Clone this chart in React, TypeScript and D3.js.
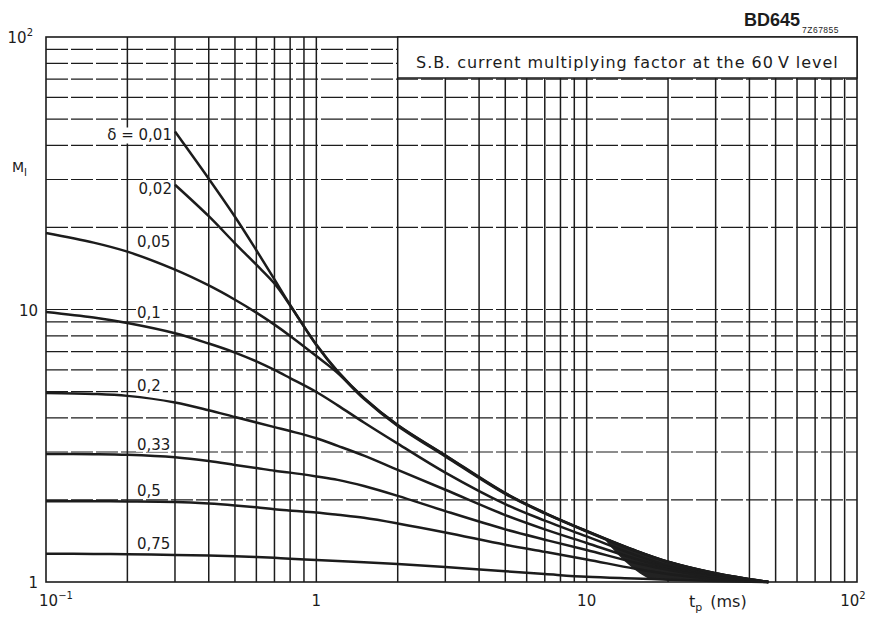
import React from 'react';
import * as d3 from 'd3';

// pulse duration tp (ms)
const tp = [0.1, 0.15, 0.2, 0.3, 0.4, 0.5, 0.6, 0.7, 0.8, 1, 1.2, 1.5, 2, 3, 5, 7, 10, 15, 20, 30, 47];

// M_I values per duty factor δ (null = curve not drawn there)
const d001 = [null, null, null, 45, 30.2, 21.9, 16.5, 12.9, 10.4, 7.44, 5.93, 4.74, 3.77, 2.92, 2.12, 1.795, 1.54, 1.31, 1.187, 1.077, 1.0];
const d002 = [null, null, null, 28.7, 22.0, 17.5, 14.6, 12.45, 10.35, 7.40, 5.91, 4.73, 3.76, 2.91, 2.115, 1.79, 1.537, 1.308, 1.186, 1.076, 1.0];
const d005 = [19.1, 17.6, 16.3, 14.0, 12.25, 10.86, 9.74, 8.80, 8.0, 6.75, 5.85, 4.70, 3.74, 2.89, 2.105, 1.785, 1.532, 1.305, 1.184, 1.075, 1.0];
const d01 = [9.8, 9.35, 8.92, 8.18, 7.5, 6.95, 6.45, 6.0, 5.6, 4.98, 4.45, 3.85, 3.22, 2.52, 1.93, 1.68, 1.47, 1.26, 1.15, 1.055, 1.0];
const d02 = [4.94, 4.9, 4.82, 4.56, 4.27, 4.03, 3.85, 3.70, 3.58, 3.37, 3.16, 2.91, 2.58, 2.18, 1.76, 1.56, 1.39, 1.22, 1.13, 1.045, 1.0];
const d033 = [2.95, 2.945, 2.93, 2.87, 2.78, 2.69, 2.62, 2.56, 2.52, 2.44, 2.37, 2.25, 2.07, 1.82, 1.56, 1.43, 1.31, 1.18, 1.11, 1.04, 1.0];
const d05 = [1.98, 1.978, 1.975, 1.965, 1.94, 1.91, 1.88, 1.85, 1.83, 1.80, 1.765, 1.72, 1.64, 1.52, 1.37, 1.29, 1.21, 1.12, 1.07, 1.025, 1.0];
const d075 = [1.27, 1.268, 1.264, 1.257, 1.25, 1.243, 1.235, 1.227, 1.218, 1.205, 1.195, 1.182, 1.165, 1.135, 1.095, 1.07, 1.045, 1.03, 1.02, 1.008, 1.0];

const seriesLabels = ['δ = 0,01', '0,02', '0,05', '0,1', '0,2', '0,33', '0,5', '0,75'];
const seriesValues = [d001, d002, d005, d01, d02, d033, d05, d075];

const xTicks = [0.1, 1, 10, 100];
const xTickLabels = ['10', '1', '10', '10'];
const xTickSups = ['−1', '', '', '2'];
const yTicks = [1, 10, 100];
const yTickLabels = ['1', '10', '10'];
const yTickSups = ['', '', '2'];

const title = 'S.B. current multiplying factor at the 60\u2009V level';
const typeCode = 'BD645';
const refCode = '7Z67855';

const W = 870;
const H = 620;
const L = 46, R = 857, T = 37, B = 582;
const FONT = '"DejaVu Sans", sans-serif';
const INK = '#1c1c1c';

// log-log interpolation inside a series
function interp(vals: (number | null)[], t: number): number {
  for (let i = 0; i < tp.length - 1; i++) {
    if (t >= tp[i] && t <= tp[i + 1] && vals[i] != null && vals[i + 1] != null) {
      const f = Math.log(t / tp[i]) / Math.log(tp[i + 1] / tp[i]);
      return Math.exp(Math.log(vals[i] as number) * (1 - f) + Math.log(vals[i + 1] as number) * f);
    }
  }
  return vals[vals.length - 1] as number;
}

export default function App() {
  const x = d3.scaleLog().domain([0.1, 100]).range([L, R]);
  const y = d3.scaleLog().domain([1, 100]).range([B, T]);

  const vGrid: number[] = [];
  [0.1, 1, 10].forEach((d) => { for (let k = 2; k <= 9; k++) vGrid.push(k * d); });
  vGrid.push(1, 10);
  const hGrid: number[] = [];
  [1, 10].forEach((d) => { for (let k = 2; k <= 9; k++) hGrid.push(k * d); });
  hGrid.push(10);

  const line = d3.line<[number, number | null]>()
    .defined((d) => d[1] != null)
    .x((d) => x(d[0]))
    .y((d) => y(d[1] as number))
    .curve(d3.curveCatmullRom.alpha(0.5));

  const pts = (vals: (number | null)[]) => tp.map((t, i) => [t, vals[i]] as [number, number | null]);

  // dense ink where the curves converge (wedge between uppermost and lowest curve)
  const t0 = 11.5, t1 = 17, tEnd = tp[tp.length - 1];
  const blobT = d3.range(0, 41).map((k) => t0 * Math.pow(tEnd / t0, k / 40));
  const area = d3.area<number>()
    .x((t) => x(t))
    .y1((t) => y(interp(d001, t)))
    .y0((t) => {
      const f = Math.max(0, Math.min(1, Math.log(t / t0) / Math.log(t1 / t0)));
      const up = Math.log(interp(d001, t));
      const lo = Math.log(interp(d075, t));
      return y(Math.exp(up * (1 - f) + lo * f));
    })
    .curve(d3.curveBasis);

  const boxL = x(2);
  const boxB = 78;

  return (
    <svg width={W} height={H} style={{ position: 'absolute', left: 0, top: 0, background: '#fff' }} fontFamily={FONT}>
      <rect x={0} y={0} width={W} height={H} fill="#fff" />
      {/* horizontal grid */}
      {hGrid.map((v, i) => (
        <line key={'h' + i} x1={L} x2={R} y1={y(v)} y2={y(v)} stroke={INK} strokeWidth={1.2} strokeDasharray="22,3" />
      ))}
      {/* vertical grid */}
      {vGrid.map((v, i) => (
        <line key={'v' + i} x1={x(v)} x2={x(v)} y1={T} y2={B} stroke={INK} strokeWidth={1.5} />
      ))}
      {/* frame */}
      <rect x={L} y={T} width={R - L} height={B - T} fill="none" stroke={INK} strokeWidth={1.6} />

      {/* title box */}
      <rect x={boxL} y={T} width={R - boxL} height={boxB - T} fill="#fff" stroke={INK} strokeWidth={1.5} />
      <text x={(boxL + R) / 2} y={68} textAnchor="middle" fontSize={16} letterSpacing={0.95} fill={INK}>{title}</text>

      {/* dense region */}
      <path d={area(blobT) || ''} fill="#222" />

      {/* curves */}
      {seriesValues.map((vals, i) => (
        <path key={'c' + i} d={line(pts(vals)) || ''} fill="none" stroke={INK} strokeWidth={2.5} strokeLinejoin="round" />
      ))}

      {/* curve labels */}
      {seriesValues.map((vals, i) => {
        const first = vals.findIndex((v) => v != null);
        if (first > 0) {
          const tx = x(tp[first]) - 3;
          const ty = y(vals[first] as number) + 9;
          const w = seriesLabels[i].length * 8.6;
          return (
            <g key={'l' + i}>
              <rect x={tx - w} y={ty - 13} width={w} height={16} fill="#fff" />
              <text x={tx} y={ty} textAnchor="end" fontSize={15} fill={INK}>{seriesLabels[i]}</text>
            </g>
          );
        }
        const tx = 137;
        const ty = y(vals[2] as number) - 5;
        const w = seriesLabels[i].length * 8.6;
        return (
          <g key={'l' + i}>
            <rect x={tx - 1} y={ty - 13} width={w + 1} height={15} fill="#fff" />
            <text x={tx} y={ty} fontSize={15} fill={INK}>{seriesLabels[i]}</text>
          </g>
        );
      })}

      {/* y tick labels */}
      {yTicks.map((v, i) => (
        <text key={'yt' + i} x={yTickSups[i] ? 33 : 38} y={y(v) + 6} textAnchor="end" fontSize={15} fill={INK}>
          {yTickLabels[i]}
          {yTickSups[i] && <tspan dy={-7} fontSize={10}>{yTickSups[i]}</tspan>}
        </text>
      ))}
      {/* x tick labels */}
      {xTicks.map((v, i) => (
        <text key={'xt' + i} x={x(v) + (i === 0 ? 10 : i === 3 ? -4 : 0)} y={606} textAnchor="middle" fontSize={15} fill={INK}>
          {xTickLabels[i]}
          {xTickSups[i] && <tspan dy={-7} fontSize={10}>{xTickSups[i]}</tspan>}
        </text>
      ))}

      {/* axis titles */}
      <text x={12} y={172} fontSize={14} fill={INK}>M<tspan dy={4} fontSize={10}>I</tspan></text>
      <text x={689} y={607} fontSize={16} fill={INK}>t<tspan dy={4} fontSize={11}>p</tspan><tspan dy={-4}>{'\u2002(ms)'}</tspan></text>

      {/* header */}
      <text x={772} y={26} textAnchor="middle" fontSize={18} fontWeight="bold" fontFamily='"Liberation Sans", Arial, sans-serif' fill={INK}>{typeCode}</text>
      <text x={802} y={33} fontSize={8.5} fontFamily='"Liberation Sans", Arial, sans-serif' letterSpacing={0.5} fill={INK}>{refCode}</text>
    </svg>
  );
}
